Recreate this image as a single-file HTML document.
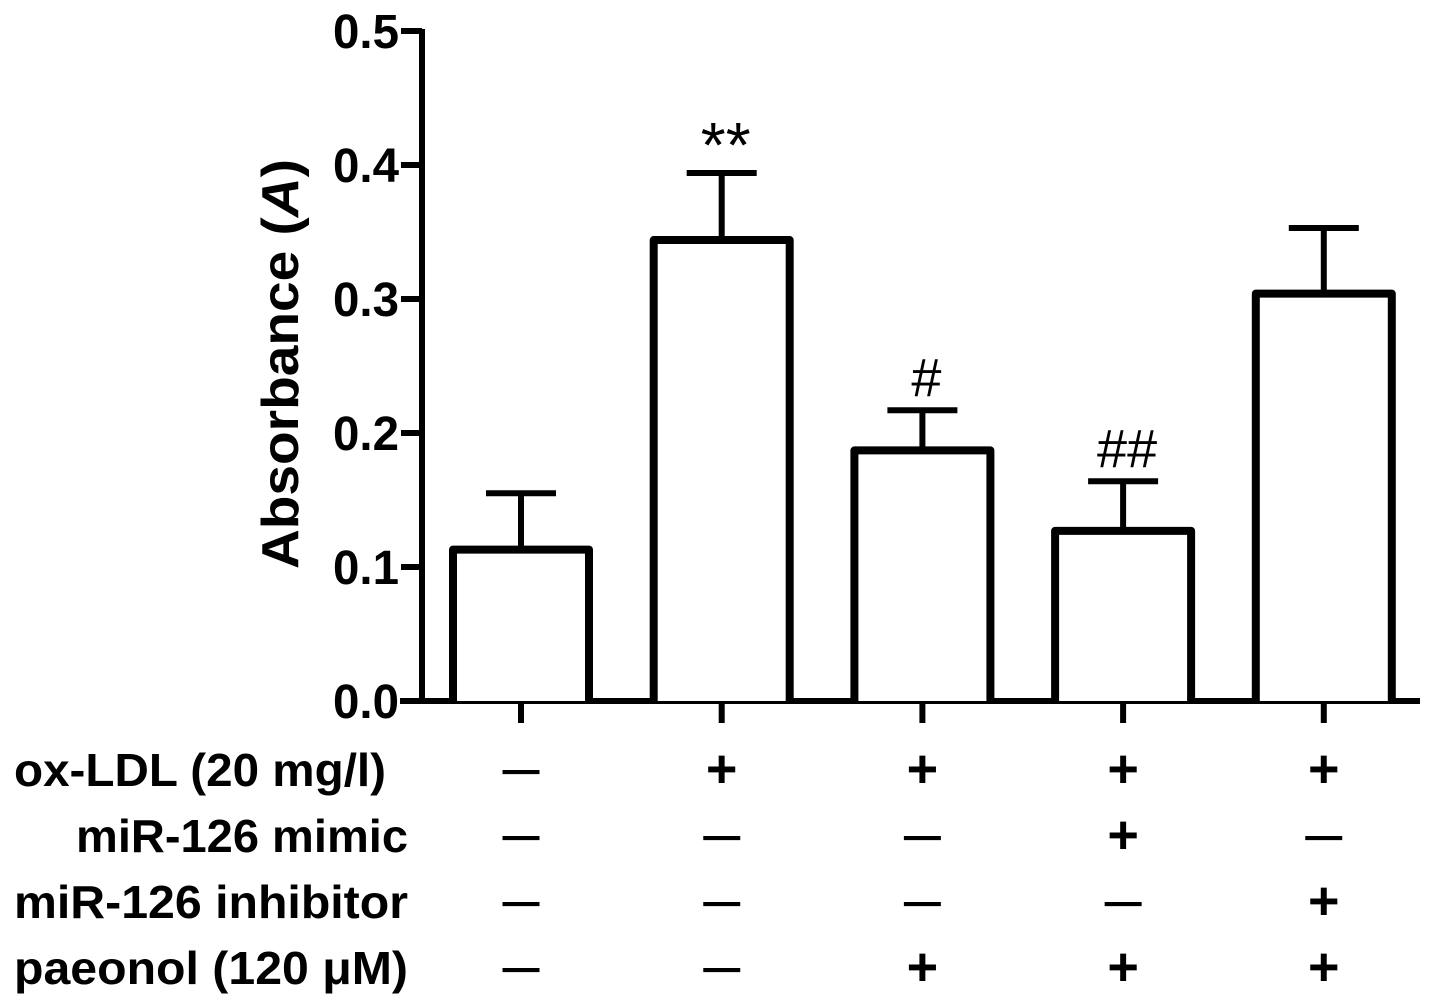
<!DOCTYPE html>
<html><head><meta charset="utf-8"><style>
html,body{margin:0;padding:0;background:#fff;}
svg{display:block;font-family:"Liberation Sans",Arial,sans-serif;}
</style></head><body>
<svg id="chart" width="1441" height="1008" viewBox="0 0 1441 1008" xmlns="http://www.w3.org/2000/svg">
<g id="axes"></g>
<g id="bars"></g>
<g id="table"></g>
</svg>
<script>
const categories = ['g1','g2','g3','g4','g5'];
const means = [0.113, 0.344, 0.187, 0.127, 0.304];
const errors = [0.042, 0.050, 0.030, 0.037, 0.049];
const annotations = ['', '**', '#', '##', ''];
const yTicks = [0.0, 0.1, 0.2, 0.3, 0.4, 0.5];
const yTickLabels = ['0.0','0.1','0.2','0.3','0.4','0.5'];
const rowLabels = ['ox-LDL (20 mg/l)','miR-126 mimic','miR-126 inhibitor','paeonol (120 \u03bcM)'];
const rowMarks = [
  ['-','+','+','+','+'],
  ['-','-','-','+','-'],
  ['-','-','-','-','+'],
  ['-','-','+','+','+']
];

const NS='http://www.w3.org/2000/svg';
function mk(tag, attrs, parent){const e=document.createElementNS(NS,tag);for(const k in attrs)e.setAttribute(k,attrs[k]);parent.appendChild(e);return e;}
const y0=701, y1=31, vmax=0.5;
function yS(v){return y0-(v/vmax)*(y0-y1);}
const xStart=521, xStep=200.7;
function xS(i){return xStart+i*xStep;}
const axes=document.getElementById('axes');
const bars=document.getElementById('bars');
const table=document.getElementById('table');

let ax=mk('line',{x1:422,y1:yS(0.5)-2,x2:422,y2:y0+2,stroke:'#000','stroke-width':6},axes);


let bx=mk('line',{x1:400,y1:y0,x2:1420,y2:y0,stroke:'#000','stroke-width':6},axes);


yTicks.forEach((t,i)=>{
  const y=yS(t);
  const tk=mk('line',{x1:401,y1:y,x2:422,y2:y,stroke:'#000','stroke-width':6},axes);
  
  
  const tl=mk('text',{x:399,y:y+17,'text-anchor':'end','font-size':48,'font-weight':'bold',textLength:66,lengthAdjust:'spacingAndGlyphs'},axes);
  tl.textContent=yTickLabels[i];
  
  
});
const yt=mk('text',{x:0,y:0,'text-anchor':'middle','font-size':52,'font-weight':'bold',transform:'translate(298,364) rotate(-90)',textLength:410,lengthAdjust:'spacingAndGlyphs'},axes);
yt.innerHTML='Absorbance (<tspan font-style="italic">A</tspan>)';



const halfW=68, capHalf=35;
categories.forEach((c,i)=>{
  const cx=xS(i);
  const top=yS(means[i]), et=yS(means[i]+errors[i]);
  const xt=mk('line',{x1:cx,y1:y0,x2:cx,y2:y0+22,stroke:'#000','stroke-width':6},axes);
  
  
  const el=mk('line',{x1:cx,y1:top,x2:cx,y2:et,stroke:'#000','stroke-width':6},bars);
  
  
  const cap=mk('line',{x1:cx-capHalf,y1:et,x2:cx+capHalf,y2:et,stroke:'#000','stroke-width':6},bars);
  
  
  const r=mk('path',{d:`M${cx-halfW},${y0} L${cx-halfW},${top} L${cx+halfW},${top} L${cx+halfW},${y0}`,fill:'#fff',stroke:'#000','stroke-width':8,'stroke-linejoin':'round'},bars);
  
  
  if(annotations[i]){
    const fs = annotations[i][0]==='*' ? 64 : 54;
    const a=mk('text',{x:cx+4,y:et-(annotations[i][0]==='*'?6:14),'text-anchor':'middle','font-size':fs},bars);
    a.textContent=annotations[i];
    
    
  }
});

const rowY=[770,836,902,968];
const labelEnd=[386,408,408,408];
const labelLen=[372,332,394,394];
rowLabels.forEach((l,r)=>{
  const t=mk('text',{x:labelEnd[r],y:rowY[r]+16,'text-anchor':'end','font-size':46,'font-weight':'bold',textLength:labelLen[r],lengthAdjust:'spacingAndGlyphs'},table);
  t.textContent=l;
  
  
  rowMarks[r].forEach((m,i)=>{
    const cx=xS(i);
    let s;
    if(m==='+'){
      s=mk('text',{x:cx,y:rowY[r]+17,'text-anchor':'middle','font-size':54,'font-weight':'bold'},table);
      s.textContent='+';
    } else {
      s=mk('text',{x:cx,y:rowY[r]+13,'text-anchor':'middle','font-size':44,textLength:36,lengthAdjust:'spacingAndGlyphs',stroke:'#000','stroke-width':1.2},table);
      s.textContent='\u2014';
    }
    
    
  });
});
</script>
</body></html>
